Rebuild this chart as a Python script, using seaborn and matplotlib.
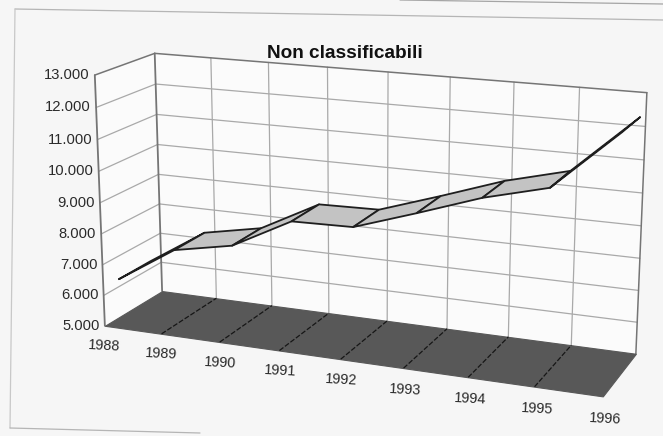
import numpy as np
import matplotlib
matplotlib.use("Agg")
import matplotlib.pyplot as plt
from matplotlib.lines import Line2D
from mpl_toolkits.mplot3d.art3d import Poly3DCollection
from mpl_toolkits.mplot3d import proj3d
import seaborn as sns

years = [1988, 1989, 1990, 1991, 1992, 1993, 1994, 1995, 1996]
values = [6270, 7460, 7830, 8820, 8860, 9500, 10170, 10670, 12450]
value_ticks = [5000, 6000, 7000, 8000, 9000, 10000, 11000, 12000, 13000]
value_labels = ["5.000", "6.000", "7.000", "8.000", "9.000", "10.000", "11.000", "12.000", "13.000"]
title = "Non classificabili"

sns.set_theme(style="white")
plt.rcParams['font.family'] = ['Liberation Sans', 'DejaVu Sans']

PAGE = "#f6f6f6"
WALL = "#fbfbfb"
GRID = "#a9a9a9"
AXIS = "#757575"
FLOOR = "#585858"
RIBBON = "#c3c3c3"
INK = "#1e1e1e"
TXT = "#2a2a2a"

fig = plt.figure(figsize=(6.63, 4.36), dpi=100, facecolor=PAGE)
ax = fig.add_axes([27.2335 / 663, -1.9485 / 436, 1, 1], projection='3d', computed_zorder=False)
ax.set_xlim(years[0], years[-1])
ax.set_ylim(0, 1)
ax.set_zlim(value_ticks[0], value_ticks[-1])
ax.view_init(elev=15.7127, azim=-67.8382, roll=0)
ax.set_proj_type('persp', focal_length=float(np.exp(-0.24130)))
ax.set_box_aspect((1, float(np.exp(-1.44577)), float(np.exp(-0.69658))), zoom=float(np.exp(0.30399)))
ax.set_axis_off()
ax.patch.set_alpha(0)

x0, x1 = years[0], years[-1]
z0, z1 = value_ticks[0], value_ticks[-1]

# walls
walls = [[(x0, 1, z0), (x1, 1, z0), (x1, 1, z1), (x0, 1, z1)],
         [(x0, 0, z0), (x0, 1, z0), (x0, 1, z1), (x0, 0, z1)]]
ax.add_collection3d(Poly3DCollection(walls, facecolor=WALL, edgecolor='none', zorder=1))

# grid on the walls
for z in value_ticks[1:-1]:
    ax.plot([x0, x1], [1, 1], [z, z], color=GRID, lw=0.9, zorder=2)
    ax.plot([x0, x0], [0, 1], [z, z], color=GRID, lw=0.9, zorder=2)
for y in years[1:-1]:
    ax.plot([y, y], [1, 1], [z0, z1], color=GRID, lw=0.9, zorder=2)
# wall outline
ax.plot([x0, x1], [1, 1], [z1, z1], color=AXIS, lw=1.1, zorder=3)
ax.plot([x0, x0], [0, 1], [z1, z1], color=AXIS, lw=1.1, zorder=3)
ax.plot([x0, x0], [1, 1], [z0, z1], color=AXIS, lw=1.3, zorder=3)
ax.plot([x0, x0], [0, 0], [z0, z1], color=AXIS, lw=1.3, zorder=3)
ax.plot([x1, x1], [1, 1], [z0, z1], color=AXIS, lw=1.1, zorder=3)

# floor
floor = [[(x0, 0, z0), (x1, 0, z0), (x1, 1, z0), (x0, 1, z0)]]
ax.add_collection3d(Poly3DCollection(floor, facecolor=FLOOR, edgecolor=FLOOR, lw=0.8, zorder=4))
for y in years[1:-1]:
    ax.plot([y, y], [0, 1], [z0, z0], color="#161616", lw=0.9, ls=(0, (4, 1.5)), zorder=5)

# ribbon
yf, yb = 0.25, 0.80
for i in range(len(years) - 1):
    a, b = years[i], years[i + 1]
    va, vb = values[i], values[i + 1]
    quad = [[(a, yf, va), (b, yf, vb), (b, yb, vb), (a, yb, va)]]
    ax.add_collection3d(Poly3DCollection(quad, facecolor=RIBBON, edgecolor=INK, lw=1.3, zorder=6 + i))

for artist in ax.get_children():
    artist.set_clip_on(False)

# labels
def to_display(x, y, z):
    px, py, _ = proj3d.proj_transform(x, y, z, ax.get_proj())
    return (px, py)

for v, lab in zip(value_ticks, value_labels):
    ax.annotate(lab, xy=to_display(x0, 0, v), xytext=(-5, 0), textcoords='offset pixels',
                ha='right', va='center', fontsize=10.6, color=TXT, annotation_clip=False)
for i, yr in enumerate(years):
    ax.annotate(str(yr), xy=to_display(yr, 0, z0), xytext=(-1 + i * 0.45, -20 - i * 0.25),
                textcoords='offset pixels', ha='center', va='center', rotation=-3,
                fontsize=10.4, color=TXT, annotation_clip=False)

fig.text(345 / 663, 1 - 53 / 436, title, ha='center', va='center', fontsize=13.7,
         fontweight='bold', color='#111111')

# scanned page frame
fig.add_artist(Line2D([15 / 663, 1], [1 - 9 / 436, 1 - 20 / 436], color="#b5b5b5", lw=0.9))
fig.add_artist(Line2D([15 / 663, 10 / 663], [1 - 9 / 436, 1 - 428 / 436], color="#c8c8c8", lw=0.9))
fig.add_artist(Line2D([10 / 663, 200 / 663], [1 - 428 / 436, 1 - 433 / 436], color="#b5b5b5", lw=0.9))
fig.add_artist(Line2D([400 / 663, 1], [1.0, 1 - 4 / 436], color="#a5a5a5", lw=0.9))

fig.savefig("out.png", dpi=100, facecolor=PAGE)
